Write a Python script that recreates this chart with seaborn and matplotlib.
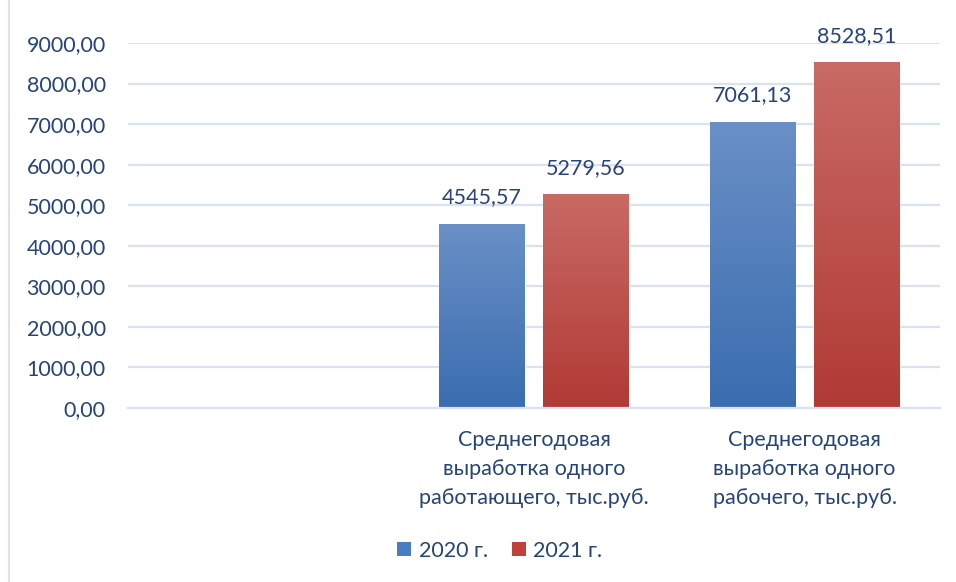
import numpy as np
import pandas as pd
import matplotlib
matplotlib.use("Agg")
import matplotlib.pyplot as plt
import seaborn as sns
from matplotlib.patches import Patch
from matplotlib.lines import Line2D
from matplotlib.colors import LinearSegmentedColormap

categories = [" ",
              "Среднегодовая\nвыработка одного\nработающего, тыс.руб.",
              "Среднегодовая\nвыработка одного\nрабочего, тыс.руб."]
series_names = ["2020 г.", "2021 г."]
values_2020 = [4545.57, 7061.13]
values_2021 = [5279.56, 8528.51]
value_labels_2020 = ["4545,57", "7061,13"]
value_labels_2021 = ["5279,56", "8528,51"]
yticks = [0, 1000, 2000, 3000, 4000, 5000, 6000, 7000, 8000, 9000]

text_color = "#264478"
grid_color = "#d9e2f0"
base_colors = {"2020 г.": "#4a7cc0", "2021 г.": "#c0413c"}
grad = {"2020 г.": ("#6a90c6", "#3a6db0"), "2021 г.": ("#c96a65", "#b13a35")}

sns.set_theme(style="white")
plt.rcParams['font.family'] = ['Lato', 'DejaVu Sans']
FS = 15.5

df = pd.DataFrame({
    "cat": categories[1:] * 2,
    "year": [series_names[0]] * 2 + [series_names[1]] * 2,
    "val": values_2020 + values_2021,
})

fig = plt.figure(figsize=(9.56, 5.82), dpi=100)
ax = fig.add_axes([128/956, 1-408/582, 812/956, 365/582])

sns.barplot(data=df, x="cat", y="val", hue="year", order=categories,
            hue_order=series_names, palette=base_colors, width=0.768, gap=0.18,
            ax=ax, legend=False, errorbar=None)

ax.set_ylim(0, 9000)
ax.set_xlim(-0.5, 2.5)
ax.set_yticks(yticks)
ax.set_yticklabels([f"{v:.2f}".replace(".", ",") for v in yticks])
ax.yaxis.grid(True, color=grid_color, linewidth=1.6)
ax.set_axisbelow(True)
for s in ["top", "right", "left"]:
    ax.spines[s].set_visible(False)
ax.spines["bottom"].set_color(grid_color)
ax.spines["bottom"].set_linewidth(1.6)
ax.tick_params(axis="both", length=0, colors=text_color, labelsize=FS)
ax.tick_params(axis="y", pad=16)
ax.tick_params(axis="x", pad=16)
for t in ax.get_xticklabels():
    t.set_linespacing(1.55)
ax.set_xlabel("")
ax.set_ylabel("")

# gradient fill on bars
bars = [p for p in ax.patches if p.get_height() > 0]
labels_all = value_labels_2020 + value_labels_2021
names_all = [series_names[0]] * 2 + [series_names[1]] * 2
for p, lab, nm in zip(bars, labels_all, names_all):
    x0, w, h = p.get_x(), p.get_width(), p.get_height()
    cmap = LinearSegmentedColormap.from_list("g", [grad[nm][1], grad[nm][0]])
    img = np.linspace(0, 1, 256).reshape(-1, 1)
    im = ax.imshow(img, cmap=cmap, aspect="auto", origin="lower",
                   extent=[x0, x0 + w, 0, h], zorder=p.get_zorder() + 0.1)
    im.set_clip_path(p)
    ax.text(x0 + w/2, h + 400, lab, ha="center", va="bottom",
            color=text_color, fontsize=FS)
ax.set_xlim(-0.5, 2.5)
ax.set_ylim(0, 9000)

handles = [Patch(facecolor=base_colors[n], edgecolor="none") for n in series_names]
fig.legend(handles, series_names, loc="center", bbox_to_anchor=(0.523, 0.054),
           ncol=2, frameon=False, fontsize=FS, labelcolor=text_color,
           handlelength=0.65, handleheight=0.65, handletextpad=0.35, columnspacing=1.1)

fig.add_artist(Line2D([9/956, 9/956], [0, 1], color=grid_color, linewidth=1.5))

fig.savefig("out.png", dpi=100, facecolor="white")
